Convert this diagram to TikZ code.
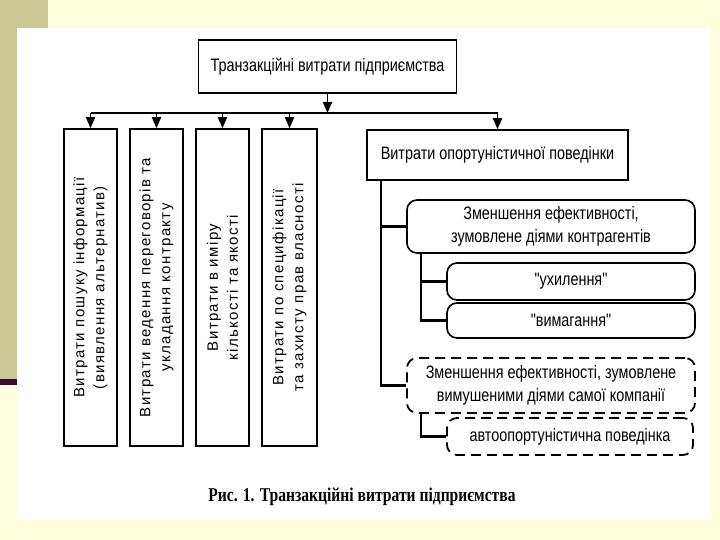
\documentclass[tikz,border=0pt]{standalone}
\usepackage{fontspec}
\setmainfont{Liberation Sans}
\newfontfamily\nar[FakeStretch=0.8]{Liberation Sans}
\newfontfamily\spaced[LetterSpace=9]{Liberation Sans}
\newfontfamily\capfont[FakeStretch=0.8]{Liberation Serif}
\usetikzlibrary{arrows.meta,calc}
\definecolor{cream}{RGB}{255,255,221}
\definecolor{olivebg}{RGB}{201,201,150}
\definecolor{purp}{RGB}{60,10,50}
\begin{document}
\begin{tikzpicture}[x=1pt,y=-1pt,
  box/.style={draw, line width=1.6pt, inner sep=0pt},
  rbox/.style={box, rounded corners=10pt},
  dbox/.style={rbox, dash pattern=on 10pt off 6pt, line width=1.8pt},
  htext/.style={font=\nar\fontsize{18}{23}\selectfont, align=center},
  vlab/.style={rotate=90, align=center, font=\spaced\fontsize{15}{20}\selectfont},
  conn/.style={line width=2.2pt},
  arr/.style={line width=1.8pt, -{Triangle[width=9pt,length=11pt]}}]
\useasboundingbox (0,0) rectangle (720,540);
\fill[cream] (0,0) rectangle (720,540);
\fill[olivebg] (0,0) rectangle (48,379);
\fill[purp] (0,379) rectangle (17,385);
\fill[white] (17,28) rectangle (709,520);

% top
\node[box, minimum width=258pt, minimum height=53pt, htext] (top) at (327.5,66.5) {Транзакційні витрати підприємства};
% vertical boxes
\node[box, minimum width=53pt, minimum height=317pt] (b1) at (90.5,287.5) {};
\node[box, minimum width=53pt, minimum height=317pt] (b2) at (156.5,287.5) {};
\node[box, minimum width=53pt, minimum height=317pt] (b3) at (222.5,287.5) {};
\node[box, minimum width=55pt, minimum height=317pt] (b4) at (289.5,287.5) {};
\node[vlab] (t1) at (b1.center) {Витрати пошуку інформації\\(виявлення альтернатив)};
\node[vlab] (t2) at (b2.center) {Витрати ведення переговорів та\\укладання контракту};
\node[vlab] (t3) at (b3.center) {Витрати в иміру\\кількості та якості};
\node[vlab] (t4) at (b4.center) {Витрати по специфікації\\та захисту прав власності};
% opportunistic
\node[box, minimum width=261pt, minimum height=50pt, htext] (opp) at (497.5,155) {Витрати опортуністичної поведінки};
\node[rbox, minimum width=288pt, minimum height=53pt, htext] (r1) at (551,226.5) {Зменшення ефективності,\\зумовлене діями контрагентів};
\node[rbox, minimum width=248pt, minimum height=37pt, htext] (r2) at (571,281.5) {"ухилення"};
\node[rbox, minimum width=248pt, minimum height=35pt, htext] (r3) at (571,320.5) {"вимагання"};
\node[dbox, minimum width=288pt, minimum height=55pt, htext] (d1) at (551,385.5) {Зменшення ефективності, зумовлене\\вимушеними діями самої компанії};
\node[dbox, minimum width=246pt, minimum height=37pt, htext] (d2) at (570,436.5) {автоопортуністична поведінка};

% bus
\coordinate (bus) at (327.5,113);
\draw[arr] (top.south) -- (bus);
\draw[conn] (b1.north |- bus) -- (opp.north |- bus);
\foreach \b in {b1,b2,b3,b4,opp} \draw[arr] (\b.north |- bus) -- (\b.north);

% trunks
\coordinate (k1) at ($(opp.south west)+(15,0)$);
\draw[conn] (k1) -- (k1 |- d1.west) -- (d1.west);
\draw[conn] (k1 |- r1.west) -- (r1.west);
\coordinate (k2) at ($(r1.south west)+(15,0)$);
\draw[conn] (k2) -- (k2 |- r3.west) -- (r3.west);
\draw[conn] (k2 |- r2.west) -- (r2.west);
\coordinate (k3) at ($(d1.south west)+(15,0)$);
\draw[conn] (k3) -- (k3 |- d2.west) -- (d2.west);

% caption
\node[font=\capfont\bfseries\fontsize{19.5}{22}\selectfont] (cap) at (362,497) {Рис. 1. Транзакційні витрати підприємства};
\end{tikzpicture}
\end{document}
